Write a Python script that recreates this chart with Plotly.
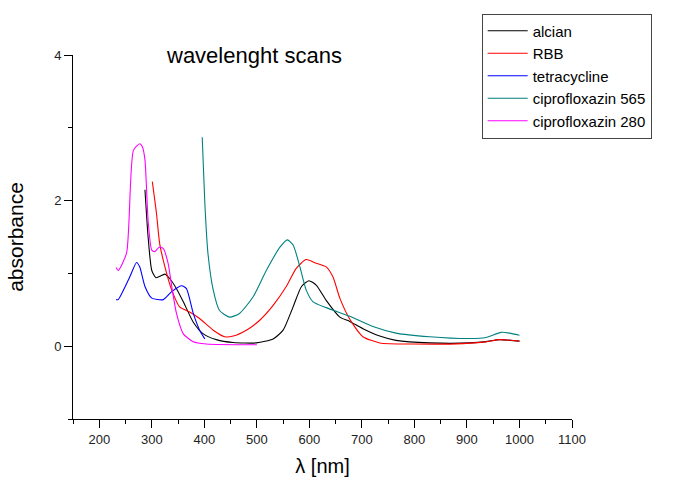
import plotly.graph_objects as go

# ---- data ----
alcian_x = [287, 293, 300, 308, 315, 325, 334, 347, 360, 379, 398, 423, 455, 499, 531, 550, 569, 585, 599, 613, 632, 658, 677, 702, 734, 765, 829, 905, 943, 962, 1000]
alcian_y = [2.15, 1.5, 1.04, 0.94, 0.96, 0.99, 0.93, 0.79, 0.61, 0.33, 0.17, 0.09, 0.05, 0.045, 0.1, 0.22, 0.54, 0.82, 0.90, 0.84, 0.63, 0.40, 0.34, 0.24, 0.14, 0.08, 0.045, 0.045, 0.07, 0.09, 0.07]

rbb_x = [301, 309, 315, 325, 338, 353, 372, 391, 417, 439, 455, 480, 506, 531, 556, 575, 594, 613, 632, 645, 658, 677, 702, 734, 797, 892, 936, 962, 1000]
rbb_y = [2.26, 1.82, 1.41, 1.09, 0.77, 0.54, 0.47, 0.38, 0.22, 0.13, 0.14, 0.22, 0.36, 0.56, 0.82, 1.07, 1.19, 1.14, 1.09, 0.95, 0.66, 0.37, 0.13, 0.045, 0.03, 0.035, 0.06, 0.09, 0.07]

tetra_x = [232, 236, 258, 271, 277, 287, 300, 322, 338, 357, 366, 379, 391, 401]
tetra_y = [0.64, 0.64, 0.95, 1.15, 1.09, 0.82, 0.66, 0.64, 0.75, 0.83, 0.79, 0.45, 0.22, 0.10]

cip565_x = [396, 401, 407, 417, 429, 448, 467, 493, 518, 544, 558, 569, 582, 594, 607, 632, 677, 721, 765, 829, 905, 936, 965, 981, 1000]
cip565_y = [2.87, 1.96, 1.27, 0.77, 0.49, 0.40, 0.45, 0.68, 1.04, 1.36, 1.46, 1.39, 1.09, 0.77, 0.61, 0.53, 0.41, 0.27, 0.18, 0.13, 0.105, 0.12, 0.19, 0.18, 0.15]

cip280_x = [232, 236, 252, 265, 277, 282, 287, 293, 300, 306, 314, 322, 331, 338, 347, 360, 379, 404, 500]
cip280_y = [1.08, 1.04, 1.28, 2.69, 2.78, 2.74, 2.56, 1.73, 1.32, 1.30, 1.36, 1.34, 1.14, 0.82, 0.45, 0.17, 0.06, 0.03, 0.02]

series = [
    ("alcian", alcian_x, alcian_y, "#000000"),
    ("RBB", rbb_x, rbb_y, "#FF0000"),
    ("tetracycline", tetra_x, tetra_y, "#0000FF"),
    ("ciprofloxazin 565", cip565_x, cip565_y, "#008080"),
    ("ciprofloxazin 280", cip280_x, cip280_y, "#FF00FF"),
]

FONT = "Liberation Sans, Arial, sans-serif"

fig = go.Figure()
for name, xs, ys, col in series:
    fig.add_trace(go.Scatter(x=xs, y=ys, name=name, mode="lines",
                             line=dict(color=col, width=1.1, shape="spline", smoothing=0.6)))

fig.update_layout(
    width=673, height=483,
    margin=dict(l=73, r=101, t=55, b=64, autoexpand=False),
    paper_bgcolor="white", plot_bgcolor="white",
    font=dict(family=FONT, color="#000"),
    showlegend=True,
    hovermode=False,
    legend=dict(x=0.819, y=1.114, xanchor="left", yanchor="top",
                bordercolor="#444", borderwidth=1, bgcolor="white",
                font=dict(size=15, family=FONT), tracegroupgap=0,
                itemwidth=40, entrywidth=200, entrywidthmode="pixels"),
    annotations=[dict(text="wavelenght scans", x=494, y=4, xref="x", yref="y",
                      showarrow=False, font=dict(size=22, family=FONT))],
)

fig.update_xaxes(
    range=[150, 1100], showgrid=False, zeroline=False,
    showline=True, linecolor="#000", linewidth=1,
    ticks="outside", ticklen=8, tickcolor="#000", tick0=0, dtick=100,
    minor=dict(ticks="outside", ticklen=4, dtick=50, tick0=0, tickcolor="#000"),
    tickfont=dict(size=13, color="#222"),
    title=dict(text="λ [nm]", font=dict(size=20), standoff=13),
    automargin=False,
)
fig.update_yaxes(
    range=[-1, 4], showgrid=False, zeroline=False,
    showline=True, linecolor="#000", linewidth=1,
    ticks="outside", ticklen=8, tickcolor="#000", tick0=0, dtick=2,
    minor=dict(ticks="outside", ticklen=4, dtick=1, tick0=0, tickcolor="#000"),
    tickfont=dict(size=13, color="#222"),
    title=dict(text="absorbance", font=dict(size=21), standoff=24),
    automargin=False,
)

fig.write_html("out.html", config={"displayModeBar": False},
               post_script="document.body.style.margin='0px';")
